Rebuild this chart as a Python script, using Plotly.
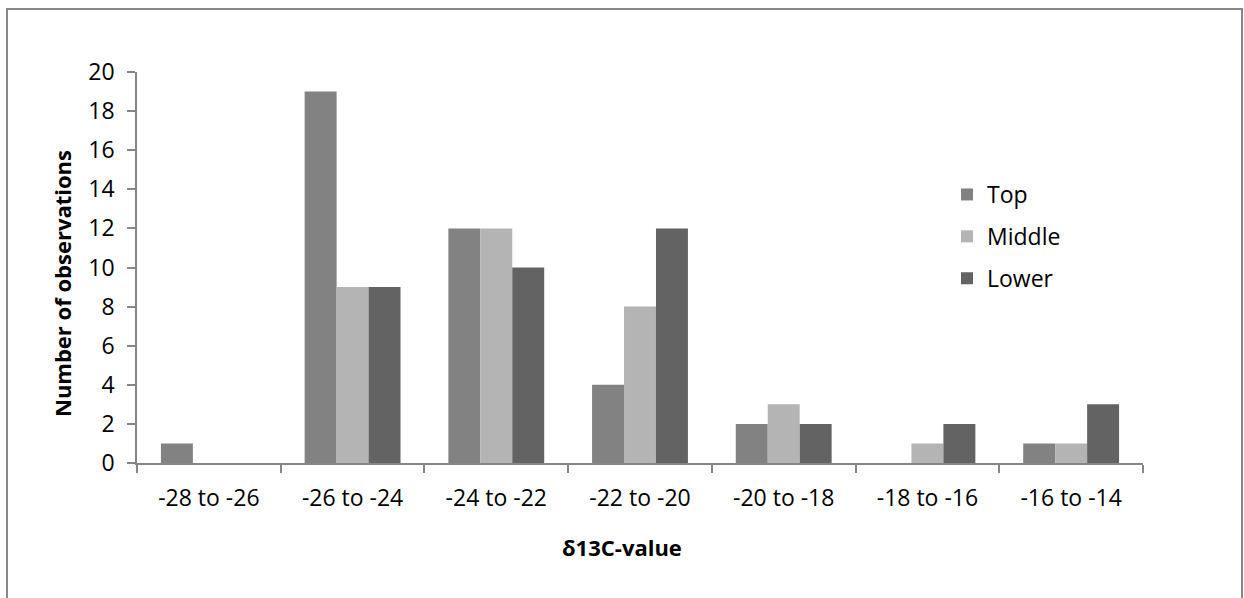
import plotly.graph_objects as go

categories = ["-28 to -26", "-26 to -24", "-24 to -22", "-22 to -20", "-20 to -18", "-18 to -16", "-16 to -14"]
top = [1, 19, 12, 4, 2, 0, 1]
middle = [0, 9, 12, 8, 3, 1, 1]
lower = [0, 9, 10, 12, 2, 2, 3]
y_ticks = [0, 2, 4, 6, 8, 10, 12, 14, 16, 18, 20]

FONT = "Open Sans"
AX = "#868686"

W, H = 1244, 598
L, R, T, B = 137, 1143, 72, 463
pw, ph = R - L, B - T

def px(x):
    return (x - L) / pw

def py(y):
    return (B - y) / ph

fig = go.Figure()
for name, vals, col in [("Top", top, "#828282"), ("Middle", middle, "#b4b4b4"), ("Lower", lower, "#636363")]:
    fig.add_trace(go.Bar(x=categories, y=vals, name=name, marker=dict(color=col, line=dict(width=0)),
                         legendgroup=name))

fig.update_layout(
    width=W, height=H,
    margin=dict(l=L, r=W - R, t=T, b=H - B, pad=0),
    paper_bgcolor="white", plot_bgcolor="white",
    barmode="group", bargap=0.333, bargroupgap=0,
    font=dict(family=FONT, size=23, color="black"),
    showlegend=True,
    legend=dict(x=px(947), y=py(173), xanchor="left", yanchor="top",
                font=dict(family=FONT, size=23), tracegroupgap=9,
                bgcolor="rgba(0,0,0,0)", itemwidth=30),
    xaxis=dict(type="category", showline=True, linecolor=AX, linewidth=1.5,
               ticks="outside", tickson="boundaries", ticklen=8, tickcolor=AX, tickwidth=1.5,
               ticklabelstandoff=14,
               showgrid=False, zeroline=False, tickfont=dict(family=FONT, size=23)),
    yaxis=dict(range=[0, 20], tickvals=y_ticks, showline=True, linecolor=AX, linewidth=1.5,
               ticks="outside", ticklen=8, tickcolor=AX, tickwidth=1.5,
               ticklabelstandoff=8,
               showgrid=False, zeroline=False, tickfont=dict(family=FONT, size=23)),
    annotations=[
        dict(text="<b>δ13C-value</b>", x=px(622), y=py(547), xref="paper", yref="paper",
             xanchor="center", yanchor="middle",
             showarrow=False, font=dict(family=FONT, size=22)),
        dict(text="<b>Number of observations</b>", x=px(62), y=py(284), xref="paper", yref="paper",
             xanchor="center", yanchor="middle",
             showarrow=False, textangle=-90, font=dict(family=FONT, size=22)),
    ],
    shapes=[
        dict(type="rect", xref="paper", yref="paper", x0=px(7), x1=px(1242), y0=py(640), y1=py(9),
             line=dict(color="#888888", width=2), fillcolor="rgba(0,0,0,0)", layer="below"),
    ],
)

fig.write_html("out.html", config={"displayModeBar": False},
               post_script="document.body.style.margin='0';")
